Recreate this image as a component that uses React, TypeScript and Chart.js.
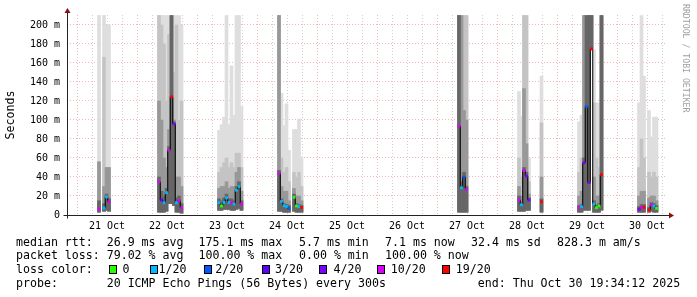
import React, { useEffect, useRef } from "react";
import { Chart, registerables } from "chart.js";

Chart.register(...registerables);

// ---- time axis (hours since 21 Oct 00:00) ----
const rangeStartHour = -4;
const rangeEndHour = 236;
const binCenterOffset = 0.8;
const dayLabels = ["21 Oct", "22 Oct", "23 Oct", "24 Oct", "25 Oct", "26 Oct", "27 Oct", "28 Oct", "29 Oct", "30 Oct"];

// ---- hourly slots that returned pings ----
const slotHour = [
  8, 10, 11, 12,
  32, 33, 34, 35, 36, 37, 38, 39, 40, 41,
  56, 57, 58, 59, 60, 61, 62, 63, 64, 65,
  80, 81, 82, 83, 84, 86, 87, 88, 89,
  152, 153, 154, 155,
  176, 177, 178, 179, 180, 185,
  200, 201, 202, 203, 204, 205, 206, 207, 208, 209,
  224, 225, 226, 228, 229, 230, 231,
];
// smoke bands (ms): lightest band top ... darkest band top, common bottom
const smokeTop = [
  210, 210, 200, 200,
  210, 210, 210, 210, 210, 210, 210, 210, 210, 200,
  89, 95, 103, 210, 95, 157, 105, 210, 210, 114,
  210, 128, 94, 117, 68, 90, 90, 101, 60,
  210, 210, 210, 210,
  130, 104, 210, 210, 60, 146,
  98, 105, 210, 210, 210, 210, 174, 118, 118, 210,
  118, 210, 146, 110, 82, 103, 103,
];
const band2Top = [
  56, 166, 50, 50,
  210, 200, 180, 120, 190, 210, 150, 200, 100, 120,
  45, 50, 55, 60, 50, 55, 50, 65, 65, 50,
  210, 60, 45, 50, 35, 45, 40, 45, 30,
  210, 210, 210, 210,
  60, 40, 210, 210, 35, 97,
  45, 60, 210, 210, 210, 210, 118, 60, 50, 210,
  50, 80, 60, 45, 40, 45, 40,
];
const band3Top = [
  56, 30, 50, 50,
  120, 100, 60, 50, 90, 210, 100, 40, 40, 30,
  28, 30, 30, 35, 28, 30, 30, 45, 50, 25,
  210, 30, 25, 25, 15, 28, 20, 20, 15,
  210, 210, 110, 100,
  30, 20, 133, 75, 22, 40,
  20, 25, 210, 210, 210, 210, 40, 20, 20, 210,
  20, 25, 25, 18, 20, 20, 15,
];
const band4Top = [
  15, 12, 22, 17,
  40, 25, 20, 28, 72, 210, 98, 18, 20, 12,
  17, 15, 18, 22, 17, 17, 15, 30, 35, 15,
  47, 17, 12, 11, 10, 22, 12, 11, 10,
  210, 35, 45, 30,
  20, 13, 50, 45, 18, 17,
  10, 11, 60, 210, 210, 210, 15, 10, 12, 210,
  9, 11, 11, 8, 13, 12, 10,
];
const smokeBottom = [
  3, 4, 5, 4,
  3, 3, 3, 4, 12, 12, 10, 3, 3, 2,
  5, 5, 6, 6, 6, 5, 5, 6, 7, 5,
  4, 4, 3, 3, 3, 4, 3, 3, 3,
  3, 3, 3, 3,
  4, 4, 4, 5, 5, 3,
  3, 3, 5, 5, 5, 175, 3, 3, 3, 5,
  3, 3, 3, 3, 4, 3, 3,
];
const medianRtt = [
  6.3, 7.4, 19, 14,
  35, 15.8, 13, 23.5, 68, 124.5, 95.8, 13, 15, 7.4,
  13, 9.5, 13.3, 18, 13.3, 13, 11.6, 26, 30, 11.6,
  44, 14.4, 9.8, 8.8, 7, 18.6, 9.5, 8.8, 8,
  93.7, 28.7, 40, 27,
  15.8, 10.8, 46.7, 41, 15.8, 14,
  7.7, 8.8, 55, 114, 34, 174.7, 11.6, 7.7, 9.5, 42.4,
  6, 8, 8, 5.3, 10.5, 9.5, 7,
];
const lossCount = [
  10, 1, 1, 10,
  10, 3, 1, 1, 10, 19, 4, 1, 10, 10,
  1, 0, 1, 1, 1, 10, 1, 1, 1, 10,
  10, 1, 1, 1, 2, 0, 0, 1, 19,
  10, 1, 2, 10,
  10, 1, 10, 4, 4, 19,
  10, 1, 4, 2, 4, 19, 1, 0, 0, 19,
  4, 10, 19, 19, 10, 1, 0,
];

const lossSteps = [0, 1, 2, 3, 4, 10, 19];
const lossLabels = ["0", "1/20", "2/20", "3/20", "4/20", "10/20", "19/20"];
const lossColors = ["#26ff00", "#00b8ff", "#0059ff", "#5e00ff", "#7e00ff", "#dd00ff", "#ff0000"];

const yMaxMs = 210.5;

const rttStats = ["26.9 ms avg", "175.1 ms max", "5.7 ms min", "7.1 ms now", "32.4 ms sd", "828.3 m am/s"];
const lossStats = ["79.02 % avg", "100.00 % max", "0.00 % min", "100.00 % now"];
const probeText = "20 ICMP Echo Pings (56 Bytes) every 300s";
const endText = "end: Thu Oct 30 19:34:12 2025";

function lossColor(n: number | undefined): string {
  if (n === undefined || n === null) return "#000";
  let c = lossColors[0];
  lossSteps.forEach((s, i) => {
    if (n >= s) c = lossColors[i];
  });
  return c;
}

const MONO = "'DejaVu Sans Mono', monospace";
const MAJOR_GRID = "rgba(230, 110, 110, 0.5)";
const MINOR_GRID = "rgba(150, 150, 150, 0.45)";

const decorPlugin = {
  id: "decor",
  afterDraw(chart: any) {
    const { ctx, chartArea } = chart;
    const L = Math.round(chartArea.left) + 0.5;
    const B = Math.round(chartArea.bottom) + 0.5;
    const R = chartArea.right;
    const T = chartArea.top;
    ctx.save();
    ctx.strokeStyle = "#222";
    ctx.lineWidth = 1;
    ctx.beginPath();
    ctx.moveTo(L - 4, B);
    ctx.lineTo(R + 3, B);
    ctx.moveTo(L, B + 3);
    ctx.lineTo(L, T - 3);
    ctx.stroke();
    ctx.fillStyle = "#8a1010";
    ctx.beginPath();
    ctx.moveTo(L - 3, T - 2);
    ctx.lineTo(L + 3, T - 2);
    ctx.lineTo(L, T - 7);
    ctx.closePath();
    ctx.fill();
    ctx.beginPath();
    ctx.moveTo(R + 2, B - 3);
    ctx.lineTo(R + 2, B + 3);
    ctx.lineTo(R + 7, B);
    ctx.closePath();
    ctx.fill();

    ctx.fillStyle = "#000";
    ctx.font = `11.6px ${MONO}`;
    ctx.textAlign = "center";
    ctx.textBaseline = "alphabetic";
    ctx.translate(14, (chartArea.top + chartArea.bottom) / 2);
    ctx.rotate(-Math.PI / 2);
    ctx.fillText("Seconds", 0, 0);
    ctx.restore();

    ctx.save();
    ctx.fillStyle = "#a0a0a0";
    ctx.font = `8.2px ${MONO}`;
    ctx.textAlign = "left";
    ctx.textBaseline = "alphabetic";
    ctx.translate(683, 4);
    ctx.rotate(Math.PI / 2);
    ctx.fillText("RRDTOOL / TOBI OETIKER", 0, 0);
    ctx.restore();
  },
};

export default function App() {
  const canvasRef = useRef<HTMLCanvasElement>(null);

  useEffect(() => {
    document.body.style.margin = "0";
    const canvas = canvasRef.current;
    if (!canvas) return;

    const layerColors = ["#dedede", "#c4c4c4", "#989898", "#666666"];
    const layerTops = [smokeTop, band2Top, band3Top, band4Top];
    const barSets = layerTops.map((tops, i) => ({
      type: "bar" as const,
      data: slotHour.map((h, j) => ({ x: h + binCenterOffset, y: [smokeBottom[j], tops[j]] })),
      backgroundColor: layerColors[i],
      borderWidth: 0,
      barThickness: 3,
      grouped: false,
      order: 5 - i,
    }));

    const medianPoints: any[] = [];
    slotHour.forEach((h, j) => {
      if (j > 0 && h - slotHour[j - 1] > 1) {
        medianPoints.push({ x: (h + slotHour[j - 1]) / 2 + binCenterOffset, y: null });
      }
      medianPoints.push({ x: h + binCenterOffset, y: medianRtt[j], loss: lossCount[j] });
    });

    const xTicks: number[] = [];
    for (let v = 0; v <= rangeEndHour; v += 6) xTicks.push(v);
    const yTicks: number[] = [];
    for (let v = 0; v <= yMaxMs; v += 10) yTicks.push(v);

    const chart = new Chart(canvas, {
      type: "bar",
      data: {
        datasets: [
          {
            type: "line",
            data: medianPoints,
            borderColor: "#000",
            borderWidth: 1,
            stepped: "middle",
            spanGaps: false,
            pointStyle: "rect",
            pointRadius: (c: any) => (c.raw && c.raw.y != null ? 2 : 0),
            pointBackgroundColor: (c: any) => lossColor(c.raw ? c.raw.loss : undefined),
            pointBorderWidth: 0,
            pointBorderColor: "rgba(0,0,0,0)",
            order: 1,
          } as any,
          ...(barSets as any[]),
        ],
      },
      options: {
        responsive: false,
        animation: false,
        events: [],
        layout: { padding: { left: 0, right: 30, top: 15, bottom: 62 } },
        plugins: { legend: { display: false }, tooltip: { enabled: false } },
        scales: {
          x: {
            type: "linear",
            min: rangeStartHour,
            max: rangeEndHour,
            offset: false,
            afterBuildTicks: (axis: any) => {
              axis.ticks = xTicks.map((v) => ({ value: v }));
            },
            afterFit: (axis: any) => {
              axis.height = 20;
            },
            grid: {
              offset: false,
              drawTicks: false,
              lineWidth: 1,
              color: (c: any) => (c.tick && c.tick.value % 24 === 0 ? MAJOR_GRID : MINOR_GRID),
            },
            border: { display: false, dash: [1, 2] },
            ticks: {
              autoSkip: false,
              maxRotation: 0,
              minRotation: 0,
              padding: 5,
              color: "#000",
              font: { family: MONO, size: 10 },
              callback: (v: any) => {
                const n = Number(v);
                return n % 24 === 12 ? dayLabels[(n - 12) / 24] : "";
              },
            },
          },
          y: {
            type: "linear",
            min: 0,
            max: yMaxMs,
            afterBuildTicks: (axis: any) => {
              axis.ticks = yTicks.map((v) => ({ value: v }));
            },
            afterFit: (axis: any) => {
              axis.width = 67;
            },
            grid: {
              drawTicks: false,
              lineWidth: 1,
              color: (c: any) => (c.tick && c.tick.value % 20 === 0 ? MAJOR_GRID : MINOR_GRID),
            },
            border: { display: false, dash: [1, 2] },
            ticks: {
              padding: 7,
              color: "#000",
              font: { family: MONO, size: 10 },
              callback: (v: any) => {
                const n = Number(v);
                if (n === 0) return "0";
                return n % 20 === 0 ? `${n} m` : "";
              },
            },
          },
        },
      } as any,
      plugins: [decorPlugin],
    });
    return () => chart.destroy();
  }, []);

  const text: React.CSSProperties = {
    position: "absolute",
    fontFamily: MONO,
    fontSize: 11.6,
    lineHeight: "14px",
    whiteSpace: "pre",
    color: "#000",
  };
  const rowTop = [234.7, 248, 262.3, 275.7];
  const statLeft = [106.7, 198.5, 299, 385, 471, 557];
  const boxLeft = [109, 150, 204, 261.5, 319, 377, 442];
  const labelLeft = [122.4, 158.5, 215.2, 275, 333.5, 390.8, 455.8];

  return (
    <div style={{ position: "relative", width: 697, height: 297, background: "#fff", overflow: "hidden" }}>
      <canvas
        ref={canvasRef}
        width={697}
        height={297}
        style={{ position: "absolute", left: 0, top: 0, width: 697, height: 297 }}
      />
      <span style={{ ...text, left: 16, top: rowTop[0] }}>median rtt:</span>
      {rttStats.map((s, i) => (
        <span key={"r" + i} style={{ ...text, left: statLeft[i], top: rowTop[0] }}>{s}</span>
      ))}
      <span style={{ ...text, left: 16, top: rowTop[1] }}>packet loss:</span>
      {lossStats.map((s, i) => (
        <span key={"l" + i} style={{ ...text, left: statLeft[i], top: rowTop[1] }}>{s}</span>
      ))}
      <span style={{ ...text, left: 16, top: rowTop[2] }}>loss color:</span>
      {lossLabels.map((s, i) => (
        <React.Fragment key={"c" + i}>
          <span
            style={{
              position: "absolute",
              left: boxLeft[i],
              top: 264.5,
              width: 6,
              height: 7,
              background: lossColors[i],
              border: "1px solid #000",
            }}
          />
          <span style={{ ...text, left: labelLeft[i], top: rowTop[2] }}>{s}</span>
        </React.Fragment>
      ))}
      <span style={{ ...text, left: 16, top: rowTop[3] }}>probe:</span>
      <span style={{ ...text, left: 106.7, top: rowTop[3] }}>{probeText}</span>
      <span style={{ ...text, left: 477.8, top: rowTop[3] }}>{endText}</span>
    </div>
  );
}
